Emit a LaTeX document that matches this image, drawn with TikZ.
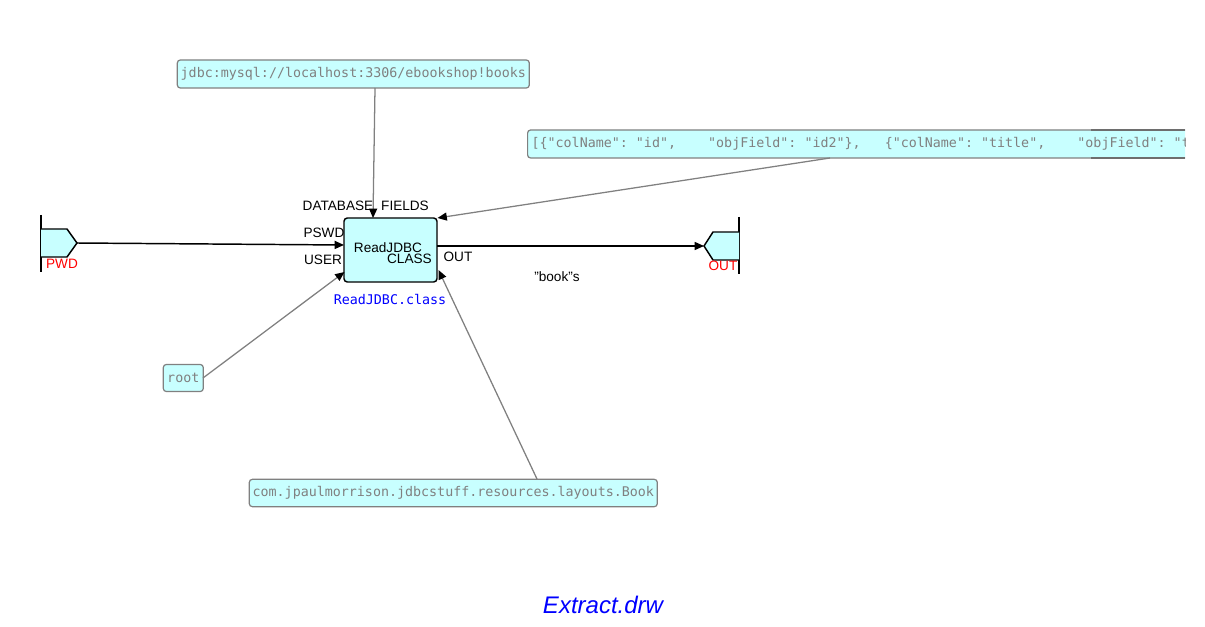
\documentclass[tikz,border=0pt]{standalone}
\usepackage{fontspec}
\setmainfont{Liberation Sans}
\newfontfamily\codefont{DejaVu Sans Mono}
\usetikzlibrary{arrows.meta}
\definecolor{cyanfill}{RGB}{200,255,255}
\definecolor{iipgray}{RGB}{128,128,128}
\definecolor{edgedark}{RGB}{110,110,110}
\begin{document}
\begin{tikzpicture}[x=0.75pt,y=-0.75pt,
  iip/.style={draw=iipgray, line width=0.9pt, fill=cyanfill, rounded corners=2.25pt,
    inner sep=0pt, text=iipgray, font=\codefont\fontsize{10}{12}\selectfont},
  block/.style={draw=black, line width=1.1pt, fill=cyanfill, rounded corners=2.5pt,
    inner sep=0pt, minimum width=69.75pt, minimum height=48pt},
  lbl/.style={inner sep=0pt, font=\fontsize{10.2}{12}\selectfont},
  portname/.style={lbl, text=red},
  iipline/.style={draw=iipgray, line width=0.95pt,
    -{Triangle[length=7pt,width=6pt,color=black]}},
  flow/.style={draw=black, line width=1.1pt,
    -{Triangle[length=7pt,width=6pt,color=black]}},
  portshape/.style={fill=cyanfill, draw=black, line width=1.1pt},
  portbar/.style={draw=black, line width=1.3pt}
]
\useasboundingbox (0,0) rectangle (1205,627);

% main process block
\node[block] (rj) at (390.5,250) {};
\node[lbl] (rjname) at (388,248) {ReadJDBC};
\node[lbl, anchor=east] (rjclass) at (432,258.5) {CLASS};
\node[inner sep=0pt, text=blue, font=\codefont\fontsize{10}{12}\selectfont] (rjcomp) at (390,299) {ReadJDBC.class};

% port points on the block edge
\coordinate (rjdb) at (373,218);
\coordinate (rjfields) at (437.5,218);
\coordinate (rjpswd) at (344,245);
\coordinate (rjuser) at (344.5,272);
\coordinate (rjclassin) at (438.5,270);
\coordinate (rjout) at (437,246);

% port labels
\node[lbl] (lbdb) at (338,206) {DATABASE};
\node[lbl] (lbfields) at (405,206) {FIELDS};
\node[lbl] (lbpswd) at (324,233) {PSWD};
\node[lbl] (lbuser) at (323,260) {USER};
\node[lbl] (lbout) at (458,256.5) {OUT};

% external input port PWD
\draw[portbar] (41,215) -- (41,272);
\filldraw[portshape] (41,229) -- (67,229) -- (77,243) -- (67,257) -- (41,257);
\coordinate (pwdtip) at (77,243);
\node[portname] (pwdname) at (62,264) {PWD};

% external output port OUT
\draw[portbar] (739,217) -- (739,274);
\filldraw[portshape] (739,232) -- (713,232) -- (704,246) -- (713,260) -- (739,260);
\coordinate (outtip) at (704,246);
\node[portname] (outname) at (723,265.5) {OUT};

% initial information packets
\node[iip, minimum width=264pt, minimum height=21pt] (jdbc) at (353.3,74)
  {jdbc:mysql://localhost:3306/ebookshop!books};
\node[iip, minimum width=30pt, minimum height=20.25pt] (root) at (183.3,378) {root};
\node[iip, minimum width=306pt, minimum height=20.5pt] (book) at (453.3,493)
  {com.jpaulmorrison.jdbcstuff.resources.layouts.Book};
\begin{scope}
  \clip (0,0) rectangle (1185,627);
  \node[iip, anchor=west, inner xsep=3pt, minimum height=21pt] (fields) at (527,144)
    {[\{"colName":\ "id",\ \ \ \ "objField":\ "id2"\},\ \ \ \{"colName":\ "title",\ \ \ \ "objField":\ "title"\}]};
\end{scope}
\draw[draw=edgedark, line width=1.6pt] (1091,130) -- (1185,130);
\draw[draw=edgedark, line width=1.6pt] (1091,158) -- (1185,158);

\coordinate (jdbcout) at (375,88);
\coordinate (fieldsout) at (830,158);
\coordinate (rootout) at (203,378);
\coordinate (bookout) at (537,479);

% connections
\draw[iipline] (jdbcout) -- (rjdb);
\draw[iipline] (fieldsout) -- (rjfields);
\draw[iipline] (rootout) -- (rjuser);
\draw[iipline] (bookout) -- (rjclassin);
\draw[flow] (pwdtip) -- (rjpswd);
\draw[flow] (rjout) -- (outtip);
\node[lbl] (flowlbl) at (557,277) {"book"s};

% diagram title
\node[inner sep=0pt, text=blue, font=\itshape\fontsize{18}{22}\selectfont] (title) at (603,605) {Extract.drw};
\end{tikzpicture}
\end{document}
